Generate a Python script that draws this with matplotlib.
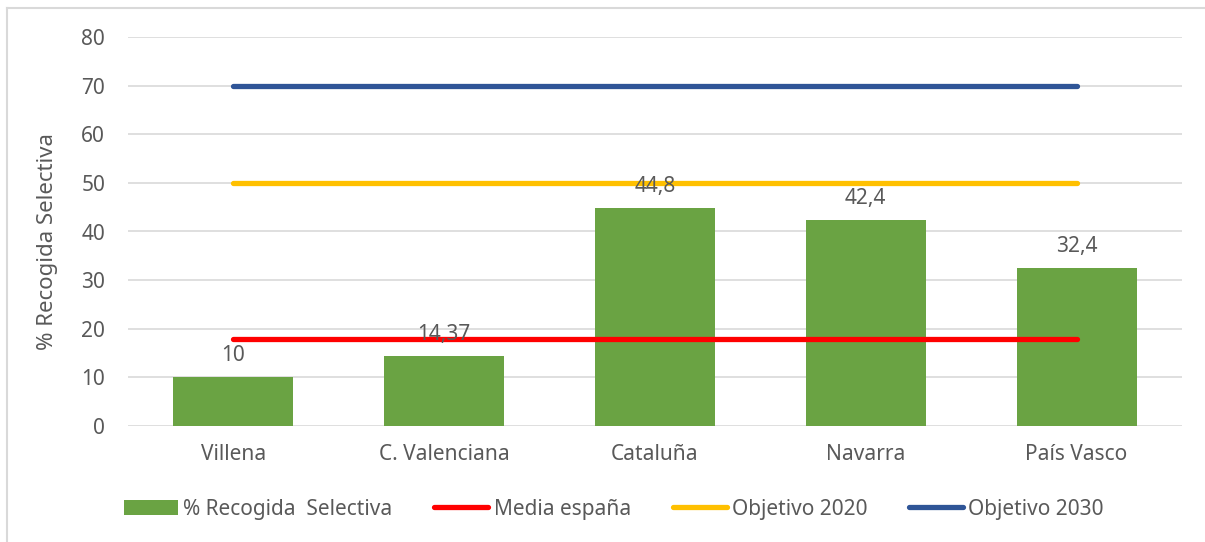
import matplotlib.pyplot as plt
from matplotlib.lines import Line2D
from matplotlib.patches import Patch
import numpy as np

plt.rcParams['font.family'] = ['Noto Sans', 'DejaVu Sans']

# data
regions = ["Villena", "C. Valenciana", "Cataluña", "Navarra", "País Vasco"]
recogida = [10, 14.37, 44.8, 42.4, 32.4]
bar_labels = ["10", "14,37", "44,8", "42,4", "32,4"]
media_espana = [17.85] * 5
objetivo_2020 = [50] * 5
objetivo_2030 = [70] * 5

GREEN = "#6AA343"
RED = "#FF0000"
YELLOW = "#FFC000"
BLUE = "#2F5597"
TXT = "#595959"
GRID = "#D9D9D9"
FS = 15

fig = plt.figure(figsize=(12.05, 5.42), dpi=100)
ax = fig.add_axes([128 / 1205, 1 - 426 / 542, (1182 - 128) / 1205, (426 - 37) / 542])

x = np.arange(len(regions))
ax.bar(x, recogida, width=0.57, color=GREEN, zorder=2)
lw = 3.8
ax.plot(x, media_espana, color=RED, lw=lw, solid_capstyle="round", zorder=3)
ax.plot(x, objetivo_2020, color=YELLOW, lw=lw, solid_capstyle="round", zorder=3)
ax.plot(x, objetivo_2030, color=BLUE, lw=lw, solid_capstyle="round", zorder=3)

for xi, v, lab in zip(x, recogida, bar_labels):
    ax.annotate(lab, (xi, v), xytext=(0, 8), textcoords="offset points",
                ha="center", va="bottom", fontsize=FS, color=TXT, zorder=4)

ax.set_xlim(-0.5, len(regions) - 0.5)
ax.set_ylim(0, 80)
ax.set_yticks(range(0, 81, 10))
ax.set_xticks(x)
ax.set_xticklabels(regions)
ax.tick_params(axis="both", length=0, labelsize=FS, colors=TXT)
ax.tick_params(axis="x", pad=13)
ax.tick_params(axis="y", pad=16.5)
ax.grid(axis="y", color=GRID, lw=1.2, zorder=0)
for s in ax.spines.values():
    s.set_visible(False)
ax.set_ylabel("% Recogida Selectiva", fontsize=16, color=TXT)
ax.yaxis.set_label_coords(-(128 - 58) / 1054, (426 - 242) / 389)

handles = [
    Patch(facecolor=GREEN, label="% Recogida  Selectiva"),
    Line2D([], [], color=RED, lw=lw, solid_capstyle="round", label="Media españa"),
    Line2D([], [], color=YELLOW, lw=lw, solid_capstyle="round", label="Objetivo 2020"),
    Line2D([], [], color=BLUE, lw=lw, solid_capstyle="round", label="Objetivo 2030"),
]
leg = fig.legend(handles=handles, loc="center", bbox_to_anchor=(614 / 1205, 1 - 509 / 542),
                 ncol=4, frameon=False, fontsize=FS, handlelength=2.6, handletextpad=0.25,
                 columnspacing=2.0, handleheight=0.7)
for t in leg.get_texts():
    t.set_color(TXT)

# chart border (top and left edges visible)
fig.add_artist(Line2D([7 / 1205, 7 / 1205], [0, 1 - 8 / 542], transform=fig.transFigure,
                      color=GRID, lw=1.5))
fig.add_artist(Line2D([7 / 1205, 1], [1 - 8 / 542, 1 - 8 / 542], transform=fig.transFigure,
                      color=GRID, lw=1.5))

fig.savefig("out.png", dpi=100)
